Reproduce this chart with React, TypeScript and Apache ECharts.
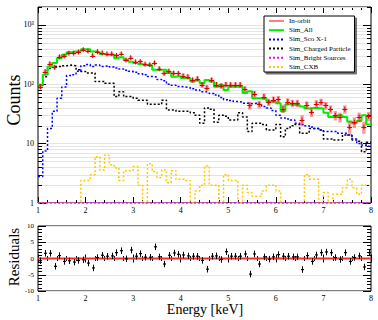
import React, { useEffect, useRef } from "react";
import * as echarts from "echarts";

// ---------- data ----------
const BIN_START = 1.0;
const BIN_WIDTH = 0.1;
const X_MIN = 1;
const X_MAX = 8;
const Y_MIN = 1;
const Y_MAX = 2000;
const R_MIN = -10;
const R_MAX = 10;
const RES_ERR = 1;

const inOrbit = [
  91, 163, 222, 193, 290, 297, 334, 334, 349, 382,
  362, 304, 353, 339, 325, 327, 305, 326, 256, 280,
  238, 242, 218, 214, 229, 182, 153, 166, 154, 152,
  139, 134, 118, 124, 98, 87, 118, 99, 94, 99,
  98, 98, 98, 83, 44, 69, 46, 62, 50, 55,
  56, 39, 51, 48, 48, 25, 45, 34, 47, 50,
  44, 38, 30, 28, 38, 19, 23, 28, 19, 29,
];

const simAll = [
  98, 144, 199, 227, 275, 313, 347, 355, 360, 390,
  390, 355, 347, 321, 313, 313, 275, 285, 258, 240,
  227, 220, 212, 208, 175, 175, 175, 154, 134, 137,
  127, 125, 111, 116, 104, 118, 111, 91, 97, 80,
  91, 91, 91, 71, 76, 58, 58, 58, 51, 51,
  48, 35, 46, 45, 45, 42, 39, 40, 40, 39,
  33, 28, 28, 30, 28, 23.5, 22, 24, 30, 21,
];

const simScoX1 = [
  2.8, 7.5, 18, 35, 58, 90, 140, 145, 165, 205,
  215, 200, 210, 200, 205, 195, 188, 180, 172, 165,
  160, 150, 145, 135, 132, 120, 115, 100, 96, 92,
  90, 88, 84, 80, 75, 73, 70, 66, 60, 55,
  53, 51, 50, 48, 47, 48, 46, 42, 40, 36,
  30, 27, 26, 25, 22, 21, 20, 19, 18, 17,
  16, 16, 16, 15, 15, 14, 12, 10, 9.5, 9,
];

const simCharged = [
  95, 134, 185, 199, 199, 205, 210, 205, 175, 164,
  155, 155, 111, 111, 104, 104, 62, 75, 62, 62,
  58, 54, 54, 46, 46, 46, 54, 37, 37, 35,
  35, 35, 33, 30, 22, 40, 38, 23, 30, 29,
  25, 25, 33, 28, 16, 22, 22, 21, 17, 17,
  21, 13, 18, 20, 21, 15, 15, 18, 18, 17,
  12, 12, 11.5, 11.5, 14, 14, 11.5, 11, 7.3, 10.5,
];

const simBright = [
  0, 0, 0, 0, 0, 0, 0, 0, 0, 0,
  0, 0, 0, 0, 0, 0, 0, 0, 0, 0,
  0, 0, 0, 0, 0, 0, 0, 0, 0, 0,
  0, 0, 0, 0, 0, 0, 0, 0, 0, 0,
  0, 0, 0, 0, 0, 0, 0, 0, 0, 0,
  0, 0, 0, 0, 0, 0, 0, 0, 0, 0,
  0, 0, 0, 0, 0, 0, 0, 0, 0, 0,
];

const simCXB = [
  0, 0, 0, 0, 0, 0, 0, 0, 0, 2.4,
  2.4, 3.0, 6.0, 3.6, 6.4, 4.4, 3.9, 2.4, 3.5, 3.5,
  4.1, 2.0, 0, 4.6, 3.4, 2.7, 3.6, 2.2, 3.5, 2.5,
  2.5, 2.4, 0, 1.6, 2.0, 4.2, 2.0, 2.0, 0, 3.0,
  2.4, 2.4, 0, 2.0, 1.5, 1.3, 1.3, 1.6, 2.0, 2.0,
  1.6, 0, 0, 0, 0, 0, 3.0, 2.5, 2.5, 0,
  1.5, 0, 1.4, 1.4, 1.8, 2.5, 1.8, 1.4, 2.0, 2.0,
];

const residuals = [
  -0.7, 1.6, 1.6, -2.4, 0.9, -0.9, -0.7, -1.1, -0.6, -0.4,
  -1.4, -2.9, 0.3, 1.0, 0.7, 0.8, 1.8, 2.4, -0.1, 2.6,
  0.7, 1.5, 0.4, 0.4, 3.6, 0.5, -1.7, 1.0, 1.7, 1.3,
  1.1, 0.8, 0.7, 0.7, -0.6, -3.3, 0.7, 0.8, -0.3, 2.1,
  0.7, 0.7, 0.7, 1.4, -4.8, 1.4, -1.7, 0.5, -0.2, 0.5,
  1.2, 0.7, 0.7, 0.5, 0.5, -3.4, 0.9, -0.9, 1.1, 1.8,
  2.0, 1.8, 0.3, -0.3, 1.8, -0.9, 0.3, 0.8, -2.6, 1.8,
];

const logMinorTicks = [
  2, 3, 4, 5, 6, 7, 8, 9,
  20, 30, 40, 50, 60, 70, 80, 90,
  200, 300, 400, 500, 600, 700, 800, 900,
  2000,
];
const logTickLabels: Record<number, string> = { 1: "1", 10: "10", 100: "10²", 1000: "10³" };

const legendNames = [
  "In-orbit",
  "Sim_All",
  "Sim_Sco X-1",
  "Sim_Charged Particle",
  "Sim_Bright Sources",
  "Sim_CXB",
];

const FONT = '"Liberation Serif", "DejaVu Serif", serif';

// ---------- helpers ----------
const edge = (i: number) => Math.round((BIN_START + i * BIN_WIDTH) * 1000) / 1000;
const center = (i: number) => Math.round((BIN_START + (i + 0.5) * BIN_WIDTH) * 1000) / 1000;

function histData(vals: number[]) {
  const out: number[][] = vals.map((v, i) => [edge(i), Math.max(v, Y_MIN)]);
  out.push([edge(vals.length), Math.max(vals[vals.length - 1], Y_MIN)]);
  return out;
}

function histSeries(name: string, vals: number[], color: string, width: number, type: any, z: number) {
  return {
    name,
    type: "line",
    xAxisIndex: 0,
    yAxisIndex: 0,
    data: histData(vals),
    step: "end",
    symbol: "none",
    showSymbol: false,
    lineStyle: { color, width, type },
    itemStyle: { color },
    z,
    silent: true,
  };
}

const px = (v: number) => Math.round(v) + 0.5;

export default function App() {
  const ref = useRef<HTMLDivElement>(null);

  useEffect(() => {
    if (!ref.current) return;
    const chart = echarts.init(ref.current, undefined, { renderer: "svg" });

    const tickStyle = { color: "#000", width: 1 };

    const option: any = {
      animation: false,
      backgroundColor: "#fff",
      grid: [
        { left: 38, right: 7, top: 7, height: 196, show: true, borderColor: "#000", borderWidth: 1, backgroundColor: "transparent", outerBoundsMode: "none" },
        { left: 38, right: 7, top: 226, height: 65, show: true, borderColor: "#000", borderWidth: 1, backgroundColor: "transparent", outerBoundsMode: "none" },
      ],
      xAxis: [
        {
          gridIndex: 0, type: "value", min: X_MIN, max: X_MAX, interval: 1, position: "bottom",
          axisLine: { show: false },
          axisTick: { show: true, inside: true, length: 6, lineStyle: tickStyle },
          minorTick: { show: true, splitNumber: 5, length: 3, lineStyle: tickStyle },
          axisLabel: { show: true, fontFamily: FONT, fontSize: 8, color: "#000", margin: 3 },
          splitLine: { show: false },
        },
        {
          gridIndex: 0, type: "value", min: X_MIN, max: X_MAX, interval: 1, position: "top",
          axisLine: { show: false },
          axisTick: { show: true, inside: true, length: 6, lineStyle: tickStyle },
          minorTick: { show: true, splitNumber: 5, length: 3, lineStyle: tickStyle },
          axisLabel: { show: false },
          splitLine: { show: false },
        },
        {
          gridIndex: 1, type: "value", min: X_MIN, max: X_MAX, interval: 1, position: "bottom",
          axisLine: { show: false },
          axisTick: { show: true, inside: true, length: 4, lineStyle: tickStyle },
          minorTick: { show: true, splitNumber: 5, length: 2.5, lineStyle: tickStyle },
          axisLabel: { show: true, fontFamily: FONT, fontSize: 8, color: "#000", margin: 3 },
          splitLine: { show: false },
        },
        {
          gridIndex: 1, type: "value", min: X_MIN, max: X_MAX, interval: 1, position: "top",
          axisLine: { show: false },
          axisTick: { show: true, inside: true, length: 4, lineStyle: tickStyle },
          minorTick: { show: true, splitNumber: 5, length: 2.5, lineStyle: tickStyle },
          axisLabel: { show: false },
          splitLine: { show: false },
        },
      ],
      yAxis: [
        {
          gridIndex: 0, type: "log", logBase: 10, min: Y_MIN, max: Y_MAX, position: "left",
          axisLine: { show: false },
          axisTick: { show: true, inside: true, length: 8, lineStyle: tickStyle },
          axisLabel: {
            show: true, fontFamily: FONT, fontSize: 8, color: "#000", margin: 4,
            formatter: (v: number) => logTickLabels[Math.round(v)] ?? "",
          },
          splitLine: { show: true, lineStyle: { color: "#e4e4e4", width: 1 } },
        },
        {
          gridIndex: 0, type: "log", logBase: 10, min: Y_MIN, max: Y_MAX, position: "right",
          axisLine: { show: false },
          axisTick: { show: true, inside: true, length: 8, lineStyle: tickStyle },
          axisLabel: { show: false },
          splitLine: { show: false },
        },
        {
          gridIndex: 1, type: "value", min: R_MIN, max: R_MAX, interval: 5, position: "left",
          axisLine: { show: false },
          axisTick: { show: true, inside: true, length: 8, lineStyle: tickStyle },
          minorTick: { show: true, splitNumber: 5, length: 4, lineStyle: tickStyle },
          axisLabel: { show: true, fontFamily: FONT, fontSize: 7, color: "#000", margin: 4 },
          splitLine: { show: true, lineStyle: { color: "#e4e4e4", width: 1 } },
        },
        {
          gridIndex: 1, type: "value", min: R_MIN, max: R_MAX, interval: 5, position: "right",
          axisLine: { show: false },
          axisTick: { show: true, inside: true, length: 8, lineStyle: tickStyle },
          minorTick: { show: true, splitNumber: 5, length: 4, lineStyle: tickStyle },
          axisLabel: { show: false },
          splitLine: { show: false },
        },
      ],
      legend: {
        data: legendNames.map((n) =>
          n === "In-orbit" ? { name: n, lineStyle: { width: 1, color: "#ff0000" } } : { name: n }
        ),
        orient: "vertical",
        left: 264,
        top: 16,
        itemWidth: 15,
        itemHeight: 7,
        itemGap: 2.2,
        padding: [1.5, 4, 1.5, 4],
        backgroundColor: "#fff",
        borderColor: "#000",
        borderWidth: 1,
        shadowColor: "rgba(0,0,0,0.55)",
        shadowOffsetX: 2,
        shadowOffsetY: 2,
        shadowBlur: 0,
        selectedMode: false,
        itemStyle: { opacity: 0 },
        textStyle: { fontFamily: FONT, fontSize: 7, color: "#000" },
      },
      graphic: [
        {
          type: "text", x: 14, y: 100, rotation: Math.PI / 2,
          style: { text: "Counts", font: `18px ${FONT}`, fill: "#000", align: "center", verticalAlign: "middle" },
        },
        {
          type: "text", x: 14, y: 257, rotation: Math.PI / 2,
          style: { text: "Residuals", font: `15px ${FONT}`, fill: "#000", align: "center", verticalAlign: "middle" },
        },
        {
          type: "text", x: 205, y: 309,
          style: { text: "Energy [keV]", font: `14px ${FONT}`, fill: "#000", align: "center", verticalAlign: "middle" },
        },
      ],
      series: [
        {
          name: "logMinor",
          type: "custom",
          xAxisIndex: 0,
          yAxisIndex: 0,
          silent: true,
          z: 1,
          data: logMinorTicks.map((v) => [X_MIN, v]),
          renderItem: (params: any, api: any) => {
            const v = api.value(1);
            const l = api.coord([X_MIN, v]);
            const r = api.coord([X_MAX, v]);
            const y = px(l[1]);
            return {
              type: "group",
              children: [
                { type: "line", shape: { x1: l[0], y1: y, x2: r[0], y2: y }, style: { stroke: "#e4e4e4", lineWidth: 1 } },
                { type: "line", shape: { x1: l[0], y1: y, x2: l[0] + 4, y2: y }, style: { stroke: "#000", lineWidth: 1 } },
                { type: "line", shape: { x1: r[0] - 4, y1: y, x2: r[0], y2: y }, style: { stroke: "#000", lineWidth: 1 } },
              ],
            };
          },
        },
        histSeries("Sim_CXB", simCXB, "#ffc800", 1.5, [2, 2], 2),
        histSeries("Sim_Bright Sources", simBright, "#ff00ff", 1.5, [2, 2], 2),
        histSeries("Sim_Charged Particle", simCharged, "#000000", 1.5, [2, 2], 2),
        histSeries("Sim_Sco X-1", simScoX1, "#0000ff", 1.5, [2, 2], 2),
        histSeries("Sim_All", simAll, "#00ee00", 2, "solid", 3),
        {
          name: "In-orbit",
          type: "line",
          xAxisIndex: 0,
          yAxisIndex: 0,
          data: [],
          symbol: "none",
          lineStyle: { color: "#ff0000", width: 1 },
          itemStyle: { color: "#ff0000" },
        },
        {
          name: "In-orbit points",
          type: "custom",
          xAxisIndex: 0,
          yAxisIndex: 0,
          silent: true,
          z: 5,
          data: inOrbit.map((v, i) => [center(i), v, Math.sqrt(v)]),
          renderItem: (params: any, api: any) => {
            const x = api.value(0);
            const y = api.value(1);
            const e = api.value(2);
            const c = api.coord([x, y]);
            const t = api.coord([x, Math.min(y + e, Y_MAX)]);
            const b = api.coord([x, Math.max(y - e, Y_MIN)]);
            const l = api.coord([x - BIN_WIDTH * 0.35, y]);
            const r = api.coord([x + BIN_WIDTH * 0.35, y]);
            return {
              type: "group",
              children: [
                { type: "rect", shape: { x: l[0], y: t[1], width: r[0] - l[0], height: b[1] - t[1] }, style: { fill: "rgba(255,0,0,0.4)" } },
                { type: "line", shape: { x1: c[0] - 2.5, y1: px(c[1]), x2: c[0] + 2.5, y2: px(c[1]) }, style: { stroke: "#dd0000", lineWidth: 1 } },
                { type: "line", shape: { x1: c[0], y1: c[1] - 2.5, x2: c[0], y2: c[1] + 2.5 }, style: { stroke: "#dd0000", lineWidth: 1 } },
              ],
            };
          },
        },
        {
          name: "zero",
          type: "line",
          xAxisIndex: 2,
          yAxisIndex: 2,
          data: [[X_MIN, 0], [X_MAX, 0]],
          symbol: "none",
          silent: true,
          lineStyle: { color: "#f03030", width: 2 },
          z: 2,
        },
        {
          name: "residuals",
          type: "custom",
          xAxisIndex: 2,
          yAxisIndex: 2,
          silent: true,
          z: 4,
          data: residuals.map((v, i) => [center(i), v]),
          renderItem: (params: any, api: any) => {
            const x = api.value(0);
            const r = api.value(1);
            const c = api.coord([x, r]);
            const t = api.coord([x, r + RES_ERR]);
            const b = api.coord([x, r - RES_ERR]);
            const cx = px(c[0]);
            return {
              type: "group",
              children: [
                { type: "line", shape: { x1: cx, y1: t[1], x2: cx, y2: b[1] }, style: { stroke: "#000", lineWidth: 1 } },
                { type: "line", shape: { x1: cx - 1.5, y1: c[1], x2: cx + 1.5, y2: c[1] }, style: { stroke: "#000", lineWidth: 1.2 } },
              ],
            };
          },
        },
      ],
    };

    chart.setOption(option);
    return () => chart.dispose();
  }, []);

  return (
    <div
      ref={ref}
      style={{ position: "absolute", left: 0, top: 0, width: 378, height: 320, background: "#fff" }}
    />
  );
}
